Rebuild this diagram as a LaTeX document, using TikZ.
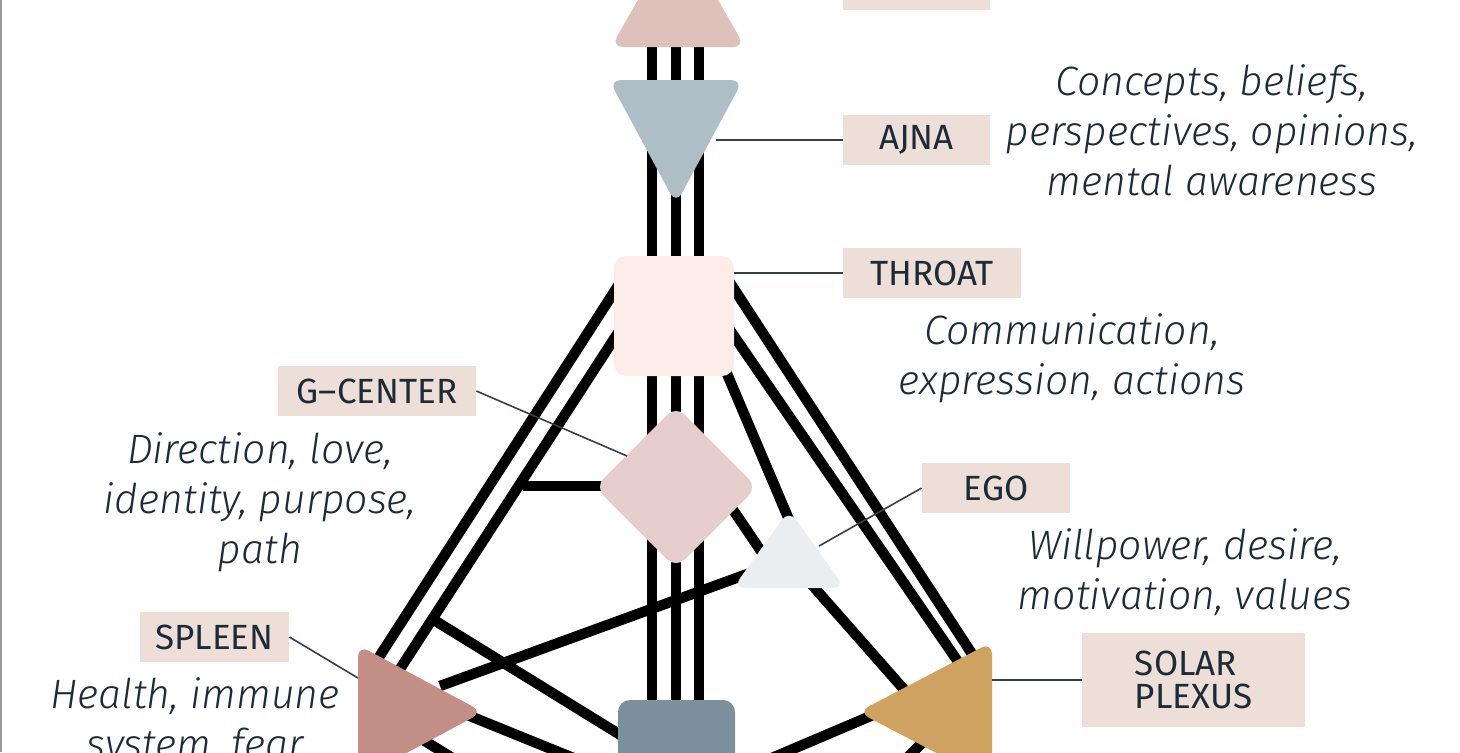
\documentclass[tikz,border=0pt]{standalone}
\usepackage{fontspec}
\setmainfont{Lato}
\newfontfamily\tagfont{Fira Sans}
\newfontfamily\notefont{Fira Sans}[ItalicFont={* Light Italic}]
\definecolor{ink}{HTML}{1B2B38}
\definecolor{tagfill}{HTML}{EDDFD8}
\definecolor{headc}{HTML}{DFC1BC}
\definecolor{ajnac}{HTML}{AEBEC6}
\definecolor{throatc}{HTML}{FBECE8}
\definecolor{gc}{HTML}{E4CDCA}
\definecolor{egoc}{HTML}{EBEEF0}
\definecolor{spleenc}{HTML}{C38E85}
\definecolor{sacralc}{HTML}{7B909C}
\definecolor{solarc}{HTML}{CFA25F}
\begin{document}
\begin{tikzpicture}[
		x=0.5pt,y=-0.5pt,
		tag/.style={fill=tagfill,text=ink,font=\tagfont\fontsize{17.5}{18}\selectfont,inner sep=0pt,minimum height=25pt},
		note/.style={text=ink,font=\notefont\fontsize{20.5}{25}\selectfont\itshape,align=center,inner sep=0pt},
		channel/.style={line width=5.2pt},
		pointer/.style={line width=0.8pt,draw=ink!90},
		centre/.style={rounded corners=6pt}
		]
		\useasboundingbox (0,0) rectangle (1460,752);
		\clip (0,0) rectangle (1460,752);
		\fill[gray!80] (0,0) rectangle (2,752);
		
		\foreach \cx in {652,676,699}
			\draw[channel] (\cx,20) -- (\cx,760);
		\draw[channel] (625,275) -- (372,668);
		\draw[channel] (625,322) -- (398,672);
		\draw[channel] (523,486) -- (640,486);
		\draw[channel] (434,620) -- (640,747);
		\draw[channel] (440,686) -- (750,573);
		\draw[channel] (465,714) -- (640,785);
		\draw[channel] (420,738) -- (480,775);
		\draw[channel] (723,272) -- (976,660);
		\draw[channel] (723,320) -- (961,666);
		\draw[channel] (722,362) -- (790,522);
		\draw[channel] (725,498) -- (765,557);
		\draw[channel] (805,577) -- (908,694);
		\draw[channel] (880,712) -- (720,780);
		\draw[channel] (925,740) -- (890,775);
		
		\fill[headc,centre] (611,47) -- (745,47) -- (678,-70) -- cycle;
		\fill[ajnac,centre] (609,80) -- (743,80) -- (676,204) -- cycle;
		\fill[throatc,centre] (614,256) rectangle (734,376);
		\fill[gc,centre] (595,487) -- (676,406) -- (757,487) -- (676,568) -- cycle;
		\fill[egoc,centre] (733,588) -- (845,588) -- (789,510) -- cycle;
		\fill[spleenc,centre] (358,645) -- (483,712) -- (358,779) -- cycle;
		\fill[sacralc,centre] (618,700) rectangle (735,830);
		\fill[solarc,centre] (992,642) -- (858,712) -- (992,782) -- cycle;
		
		\fill[tagfill] (843,-40) rectangle (990,10);
		\node[tag,minimum width=73.5pt] (ajnatag) at (916.5,140) {AJNA};
		\node[tag,minimum width=89pt] (throattag) at (932,273) {THROAT};
		\node[tag,minimum width=99pt] (gtag) at (377,391) {G–CENTER};
		\node[tag,minimum width=74pt] (egotag) at (996,488) {EGO};
		\node[tag,minimum width=74.5pt] (spleentag) at (214.5,637) {SPLEEN};
		\node[tag,minimum width=111.5pt,minimum height=47pt,align=left] (solartag) at (1193.5,680) {SOLAR\\[-1.5pt]PLEXUS};
		
		\coordinate (ajnaedge) at (716,140);
		\coordinate (throatedge) at (734,273);
		\coordinate (gedge) at (627,456);
		\coordinate (egoedge) at (819,546);
		\coordinate (spleenedge) at (358,678);
		\coordinate (solaredge) at (992,680);
		\draw[pointer] (ajnatag.west) -- (ajnaedge);
		\draw[pointer] (throattag.west) -- (throatedge);
		\draw[pointer] (gtag.east) -- (gedge);
		\draw[pointer] (egotag.west) -- (egoedge);
		\draw[pointer] (spleentag.east) -- (spleenedge);
		\draw[pointer] (solartag.west) -- (solaredge);
		
		\node[note] (ajnanote) at (1212,130) {Concepts, beliefs,\\perspectives, opinions,\\mental awareness};
		\node[note] (throatnote) at (1072,358) {Communication,\\expression, actions};
		\node[note] (gnote) at (260,502) {Direction, love,\\identity, purpose,\\path};
		\node[note] (egonote) at (1185,572) {Willpower, desire,\\motivation, values};
		\node[note] (spleennote) at (195,722) {Health, immune\\system, fear};
	\end{tikzpicture}
\end{document}
